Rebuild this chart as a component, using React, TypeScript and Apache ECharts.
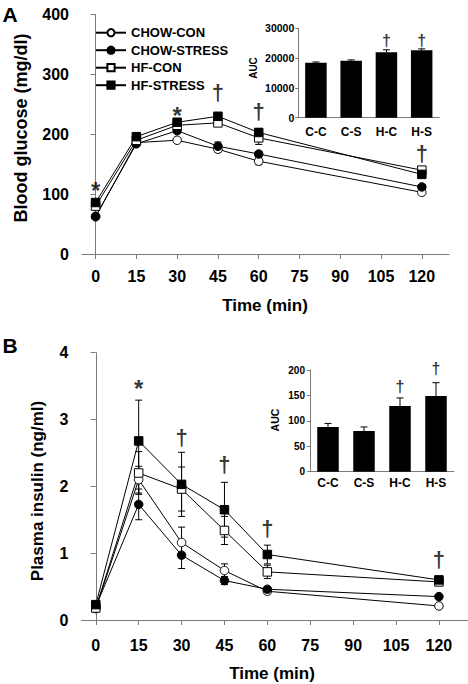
import React, { useEffect, useRef } from "react";
import * as echarts from "echarts";

const FONT = "'Liberation Sans', Arial, Helvetica, sans-serif";
const AX = "#7a7a7a";

const times = [0, 15, 30, 45, 60, 120];
const timeTicks = [0, 15, 30, 45, 60, 75, 90, 105, 120];
const seriesNames = ["CHOW-CON", "CHOW-STRESS", "HF-CON", "HF-STRESS"];
const aucCategories = ["C-C", "C-S", "H-C", "H-S"];

// Panel A: blood glucose (mg/dl)
const gluChowCon = [62, 186, 190, 175, 155, 103];
const gluChowStress = [63, 184, 206, 180, 167, 112];
const gluHfCon = [80, 190, 215, 219, 194, 140];
const gluHfStress = [86, 196, 220, 230, 203, 133];
const gluChowConErr = [3, 4, 3, 5, 6, 4];
const gluChowStressErr = [3, 4, 4, 7, 4, 4];
const gluHfConErr = [4, 5, 5, 6, 11, 5];
const gluHfStressErr = [4, 5, 5, 5, 6, 5];
const gluAuc = [18400, 19100, 22000, 22600];
const gluAucErr = [300, 300, 800, 500];

// Panel B: plasma insulin (ng/ml)
const insChowCon = [0.17, 2.1, 1.16, 0.74, 0.43, 0.21];
const insChowStress = [0.2, 1.73, 0.97, 0.59, 0.46, 0.35];
const insHfCon = [0.18, 2.2, 1.96, 1.34, 0.72, 0.57];
const insHfStress = [0.23, 2.68, 2.03, 1.65, 0.98, 0.6];
const insChowConErr = [0.03, 0.2, 0.23, 0.1, 0.04, 0.03];
const insChowStressErr = [0.03, 0.23, 0.2, 0.06, 0.04, 0.03];
const insHfConErr = [0.03, 0.32, 0.33, 0.21, 0.1, 0.04];
const insHfStressErr = [0.03, 0.61, 0.48, 0.41, 0.14, 0.04];
const insAuc = [88, 80, 129, 149];
const insAucErr = [7, 8, 16, 26];

// significance marks: [time, level, symbol]
const gluMarks: [number, number, string][] = [
  [0, 106, "*"], [30, 231, "*"], [45, 270, "†"], [60, 238, "†"], [120, 168, "†"],
];
const insMarks: [number, number, string][] = [
  [15, 3.47, "*"], [30, 2.73, "†"], [45, 2.32, "†"], [60, 1.37, "†"], [120, 0.9, "†"],
];
const gluAucMarks: [number, number, string][] = [[2, 26000, "†"], [3, 26000, "†"]];
const insAucMarks: [number, number, string][] = [[2, 168, "†"], [3, 202, "†"]];

const symbols = ["circle", "circle", "rect", "rect"];
const filled = [false, true, false, true];

function lineSeries(vals: number[][], xi: number, yi: number) {
  return vals.map((v, k) => ({
    type: "line",
    name: seriesNames[k],
    xAxisIndex: xi,
    yAxisIndex: yi,
    data: times.map((t, i) => [t, v[i]]),
    symbol: symbols[k],
    symbolSize: 8.5,
    lineStyle: { color: "#000", width: 1 },
    itemStyle: { color: filled[k] ? "#000" : "#fff", borderColor: "#000", borderWidth: 1 },
    z: 4,
    silent: true,
  }));
}

function errSeries(vals: number[][], errs: number[][], xi: number, yi: number) {
  const data: number[][] = [];
  vals.forEach((v, k) => times.forEach((t, i) => data.push([t, v[i] - errs[k][i], v[i] + errs[k][i]])));
  return {
    type: "custom",
    xAxisIndex: xi,
    yAxisIndex: yi,
    z: 3,
    silent: true,
    data,
    renderItem: (_p: any, api: any) => {
      const x = api.value(0);
      const a = api.coord([x, api.value(2)]);
      const b = api.coord([x, api.value(1)]);
      const w = 3.5;
      const st = { stroke: "#000", lineWidth: 1 };
      return {
        type: "group",
        children: [
          { type: "line", shape: { x1: a[0], y1: a[1], x2: b[0], y2: b[1] }, style: st },
          { type: "line", shape: { x1: a[0] - w, y1: a[1], x2: a[0] + w, y2: a[1] }, style: st },
          { type: "line", shape: { x1: b[0] - w, y1: b[1], x2: b[0] + w, y2: b[1] }, style: st },
        ],
      };
    },
  };
}

function barErrSeries(vals: number[], errs: number[], xi: number, yi: number) {
  return {
    type: "custom",
    xAxisIndex: xi,
    yAxisIndex: yi,
    z: 5,
    silent: true,
    data: vals.map((v, i) => [i, v, v + errs[i]]),
    renderItem: (_p: any, api: any) => {
      const x = api.value(0);
      const a = api.coord([x, api.value(2)]);
      const b = api.coord([x, api.value(1)]);
      const w = 3.5;
      const st = { stroke: "#000", lineWidth: 1 };
      return {
        type: "group",
        children: [
          { type: "line", shape: { x1: a[0], y1: a[1], x2: b[0], y2: b[1] }, style: st },
          { type: "line", shape: { x1: a[0] - w, y1: a[1], x2: a[0] + w, y2: a[1] }, style: st },
        ],
      };
    },
  };
}

function markSeries(marks: [number, number, string][], xi: number, yi: number, star: number, dag: number) {
  return {
    type: "scatter",
    xAxisIndex: xi,
    yAxisIndex: yi,
    z: 6,
    silent: true,
    clip: false,
    symbol: "circle",
    symbolSize: 1,
    itemStyle: { color: "rgba(0,0,0,0)" },
    data: marks.map((m) => ({
      value: [m[0], m[1]],
      label: {
        show: true,
        position: "inside",
        formatter: m[2],
        fontSize: m[2] === "*" ? star : dag,
        fontWeight: "bold",
        fontFamily: FONT,
        color: "#000",
      },
    })),
  };
}

const plain = (v: number) => String(v);

const mainX = (gridIndex: number, margin: number) => ({
  type: "value",
  gridIndex,
  min: -5,
  max: 130,
  axisLine: { show: true, lineStyle: { color: AX, width: 1 } },
  axisTick: { show: true, customValues: timeTicks, length: 5, lineStyle: { color: AX } },
  axisLabel: { customValues: timeTicks, fontSize: 16, fontWeight: "bold", color: "#000", fontFamily: FONT, margin, formatter: plain },
  splitLine: { show: false },
});

const mainY = (gridIndex: number, max: number, interval: number) => ({
  type: "value",
  gridIndex,
  min: 0,
  max,
  interval,
  axisLine: { show: true, lineStyle: { color: AX, width: 1 } },
  axisTick: { show: true, length: 5, lineStyle: { color: AX } },
  axisLabel: { fontSize: 16, fontWeight: "bold", color: "#000", fontFamily: FONT, margin: 13, formatter: plain },
  splitLine: { show: false },
});

const insetX = (gridIndex: number, margin: number) => ({
  type: "category",
  gridIndex,
  data: aucCategories,
  axisLine: { show: true, lineStyle: { color: AX, width: 1 } },
  axisTick: { show: false },
  axisLabel: { fontSize: 12, fontWeight: "bold", color: "#000", fontFamily: FONT, margin },
});

const insetY = (gridIndex: number, max: number, interval: number, fs: number, margin: number) => ({
  type: "value",
  gridIndex,
  min: 0,
  max,
  interval,
  axisLine: { show: true, lineStyle: { color: AX, width: 1 } },
  axisTick: { show: true, length: 3, lineStyle: { color: AX } },
  axisLabel: { fontSize: fs, fontWeight: "bold", color: "#000", fontFamily: FONT, margin, formatter: plain },
  splitLine: { show: false },
});

const txt = (text: string, x: number, y: number, fontSize: number, rot = 0) => ({
  type: "text",
  x,
  y,
  rotation: rot,
  style: {
    text,
    fontSize,
    fontWeight: "bold",
    fontFamily: FONT,
    fill: "#000",
    align: "center",
    verticalAlign: "middle",
  },
});

export default function App() {
  const ref = useRef<HTMLDivElement>(null);
  useEffect(() => {
    if (!ref.current) return;
    const chart = echarts.init(ref.current, null, { renderer: "svg" });
    const option: any = {
      animation: false,
      backgroundColor: "#fff",
      textStyle: { fontFamily: FONT },
      grid: [
        { left: 82, top: 14.5, width: 367, height: 239.5 },
        { left: 298.3, top: 28.3, width: 141, height: 89.4 },
        { left: 81.5, top: 352.7, width: 386, height: 267.3 },
        { left: 310, top: 370, width: 144, height: 101.7 },
      ],
      xAxis: [mainX(0, 14), insetX(1, 8), mainX(2, 17), insetX(3, 5.5)],
      yAxis: [
        mainY(0, 400, 100),
        insetY(1, 30000, 10000, 10.5, 4),
        mainY(2, 4, 1),
        insetY(3, 200, 50, 10, 5),
      ],
      legend: {
        data: seriesNames,
        orient: "vertical",
        left: 90,
        top: 20.7,
        itemWidth: 30,
        itemHeight: 9,
        itemGap: 3.5,
        selectedMode: false,
        textStyle: { fontSize: 13, fontWeight: "bold", color: "#000", fontFamily: FONT, lineHeight: 14 },
      },
      graphic: [
        txt("A", 10, 14, 21),
        txt("B", 10, 345, 21),
        txt("Blood glucose (mg/dl)", 21, 128, 18, Math.PI / 2),
        txt("Time (min)", 265, 305, 17),
        txt("AUC", 253.5, 68, 10, Math.PI / 2),
        txt("Plasma insulin (ng/ml)", 37, 491, 17, Math.PI / 2),
        txt("Time (min)", 272, 673, 17),
        txt("AUC", 275, 420, 10.5, Math.PI / 2),
      ],
      series: [
        errSeries(
          [gluChowCon, gluChowStress, gluHfCon, gluHfStress],
          [gluChowConErr, gluChowStressErr, gluHfConErr, gluHfStressErr],
          0, 0
        ),
        ...lineSeries([gluChowCon, gluChowStress, gluHfCon, gluHfStress], 0, 0),
        markSeries(gluMarks, 0, 0, 24, 22),
        {
          type: "bar", xAxisIndex: 1, yAxisIndex: 1, data: gluAuc, barWidth: 21.5,
          itemStyle: { color: "#000" }, silent: true, z: 4,
        },
        barErrSeries(gluAuc, gluAucErr, 1, 1),
        markSeries(gluAucMarks, 1, 1, 16, 16),
        errSeries(
          [insChowCon, insChowStress, insHfCon, insHfStress],
          [insChowConErr, insChowStressErr, insHfConErr, insHfStressErr],
          2, 2
        ),
        ...lineSeries([insChowCon, insChowStress, insHfCon, insHfStress], 2, 2),
        markSeries(insMarks, 2, 2, 24, 22),
        {
          type: "bar", xAxisIndex: 3, yAxisIndex: 3, data: insAuc, barWidth: 21.5,
          itemStyle: { color: "#000" }, silent: true, z: 4,
        },
        barErrSeries(insAuc, insAucErr, 3, 3),
        markSeries(insAucMarks, 3, 3, 16, 16),
      ],
    };
    chart.setOption(option);
    return () => chart.dispose();
  }, []);
  return (
    <div
      ref={ref}
      style={{ position: "fixed", left: 0, top: 0, width: 468, height: 684, background: "#fff" }}
    />
  );
}
